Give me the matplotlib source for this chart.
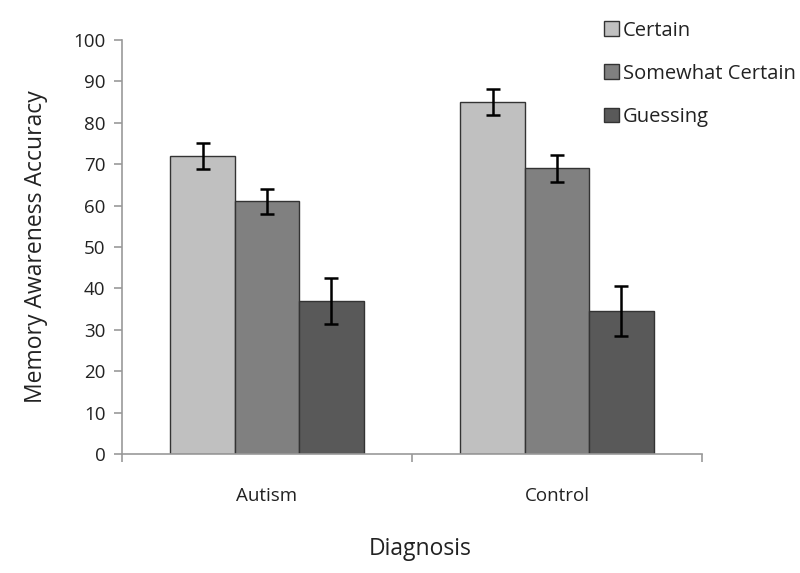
import numpy as np
import matplotlib
matplotlib.use('Agg')
import matplotlib.pyplot as plt
from matplotlib.ticker import FixedLocator

groups = ['Autism', 'Control']
conditions = ['Certain', 'Somewhat Certain', 'Guessing']
means = {
    'Certain': [72.0, 85.0],
    'Somewhat Certain': [61.0, 69.0],
    'Guessing': [37.0, 34.5],
}
errors = {
    'Certain': [3.2, 3.2],
    'Somewhat Certain': [3.0, 3.3],
    'Guessing': [5.5, 6.0],
}
colors = ['#c0c0c0', '#808080', '#595959']


def main():
    plt.rcParams['font.family'] = ['Open Sans', 'DejaVu Sans']
    fig = plt.figure(figsize=(8, 5.73), dpi=100)
    ax = fig.add_axes([0.1525, 0.2077, 0.725, 0.7225])

    x = np.arange(len(groups))
    width = 0.222
    for i, cond in enumerate(conditions):
        ax.bar(x + (i - 1) * width, means[cond], width=width, color=colors[i],
               edgecolor='#333333', linewidth=1.0, label=cond,
               yerr=errors[cond], capsize=5,
               error_kw=dict(ecolor='black', elinewidth=1.8, capthick=1.8))

    ax.set_xlim(-0.5, 1.5)
    ax.set_ylim(0, 100)
    ax.set_yticks(np.arange(0, 101, 10))
    ax.set_xticks(x)
    ax.set_xticklabels(groups)
    ax.xaxis.set_minor_locator(FixedLocator([-0.5, 0.5, 1.5]))
    ax.tick_params(axis='x', which='major', length=0, pad=24, labelsize=13.5, colors='#222222')
    ax.tick_params(axis='x', which='minor', length=6, color='#999999', width=1.2)
    ax.tick_params(axis='y', length=6, color='#999999', width=1.2, labelsize=13.5, pad=6)
    ax.tick_params(axis='y', labelcolor='#222222')
    for s in ['top', 'right']:
        ax.spines[s].set_visible(False)
    for s in ['left', 'bottom']:
        ax.spines[s].set_color('#999999')
        ax.spines[s].set_linewidth(1.2)

    ax.set_ylabel('Memory Awareness Accuracy', fontsize=16.5, color='#222222', labelpad=18)
    fig.text(0.525, 0.042, 'Diagnosis', fontsize=16.5, color='#222222', ha='center', va='center')

    fig.legend(loc='upper left', bbox_to_anchor=(0.755, 0.964), frameon=False,
               borderpad=0, borderaxespad=0,
               fontsize=14.5, handlelength=0.75, handleheight=0.75, handletextpad=0.2,
               labelspacing=1.15, labelcolor='#222222')

    fig.savefig('out.png', dpi=100)


if __name__ == "__main__":
    main()
